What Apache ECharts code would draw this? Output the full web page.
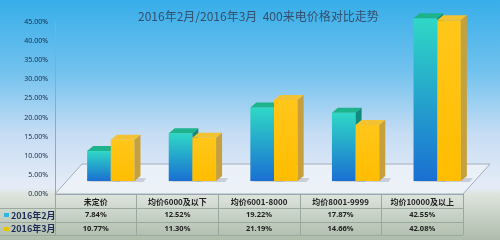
<!DOCTYPE html>
<html><head><meta charset="utf-8">
<script src="https://cdn.jsdelivr.net/npm/echarts@6/dist/echarts.min.js"></script>
<style>html,body{margin:0;padding:0;}#c{width:500px;height:240px;}</style>
</head><body><div id="c"></div>
<script>
const titleText = '2016年2月/2016年3月  400来电价格对比走势';
const categories = ['未定价', '均价6000及以下', '均价6001-8000', '均价8001-9999', '均价10000及以上'];
const seriesNames = ['2016年2月', '2016年3月'];
const febValues = [7.84, 12.52, 19.22, 17.87, 42.55];
const marValues = [10.77, 11.30, 21.19, 14.66, 42.08];
const yTicks = [0, 5, 10, 15, 20, 25, 30, 35, 40, 45];

const fmt = v => v.toFixed(2) + '%';
const chart = echarts.init(document.getElementById('c'), null, {renderer: 'canvas'});

const DX = 15, DY = -13, DEPTH_X = 6, DEPTH_Y = 5;
const styles = [
  {front: ['#2fd8c6', '#1a6fd2'], top: '#1db38c', side: '#138a7e'},
  {front: ['#ffc61a', '#ffbd00'], top: '#f3c232', side: '#c6a03c'}
];

function makeRender(si) {
  return function (params, api) {
    const idx = api.value(0);
    const val = api.value(1);
    const base = api.coord([idx, 0]);
    const top = api.coord([idx, val]);
    const band = api.size([1, 0])[0];
    const w = band * 0.29;
    const x0 = base[0] + DX + (si === 0 ? -w : 0);
    const yb = base[1] + DY;
    const yt = top[1] + DY;
    const st = styles[si];
    return {
      type: 'group',
      children: [
        {type: 'polygon', shape: {points: [[x0 - 1, yb + 1], [x0 + w + 9, yb + 1], [x0 + w + 12, yb - 3], [x0 + w, yb - 3]]},
          style: {fill: 'rgba(120,130,150,0.3)'}},
        {type: 'rect', shape: {x: x0, y: yt, width: w, height: yb - yt},
          style: {fill: new echarts.graphic.LinearGradient(0, 0, 0, 1, [{offset: 0, color: st.front[0]}, {offset: 1, color: st.front[1]}])}},
        {type: 'polygon', shape: {points: [[x0, yt], [x0 + DEPTH_X, yt - DEPTH_Y], [x0 + w + DEPTH_X, yt - DEPTH_Y], [x0 + w, yt]]},
          style: {fill: st.top}},
        {type: 'polygon', shape: {points: [[x0 + w, yt], [x0 + w + DEPTH_X, yt - DEPTH_Y], [x0 + w + DEPTH_X, yb - DEPTH_Y], [x0 + w, yb]]},
          style: {fill: st.side}}
      ]
    };
  };
}

const rowLabelFont = {fontFamily: 'Noto Sans CJK SC', fontSize: 9, fontWeight: 'bold', fill: '#1c2a55'};
const lineStyle = {stroke: '#9aa8a0', lineWidth: 1};

const option = {
  animation: false,
  backgroundColor: new echarts.graphic.LinearGradient(0, 0, 0, 1, [
    {offset: 0, color: '#37aee9'},
    {offset: 0.3, color: '#72c2ee'},
    {offset: 0.55, color: '#c4dcf4'},
    {offset: 0.78, color: '#e6ecf6'},
    {offset: 0.81, color: '#dde4dc'},
    {offset: 1, color: '#aebcac'}
  ]),
  title: {
    text: titleText, left: 133, top: 5,
    textStyle: {fontFamily: 'Noto Sans CJK SC', fontSize: 12, fontWeight: 'normal', color: '#34506e'}
  },
  grid: {left: 55, right: 37, top: 22, bottom: 46},
  xAxis: [
    {
      type: 'category', data: categories, position: 'bottom',
      axisLine: {show: true, lineStyle: {color: '#9aa6b4'}},
      axisTick: {show: true, length: 41, lineStyle: {color: '#9aa8a0'}},
      axisLabel: {interval: 0, margin: 4, fontFamily: 'Noto Sans CJK SC', fontSize: 8, fontWeight: 'bold', color: '#222'}
    },
    {
      type: 'category', data: febValues.map(fmt), position: 'bottom', offset: 14,
      axisLine: {show: false}, axisTick: {show: false},
      axisLabel: {interval: 0, margin: 3, fontFamily: 'Noto Sans', fontSize: 7.5, fontWeight: 'bold', color: '#222'}
    },
    {
      type: 'category', data: marValues.map(fmt), position: 'bottom', offset: 28,
      axisLine: {show: false}, axisTick: {show: false},
      axisLabel: {interval: 0, margin: 3, fontFamily: 'Noto Sans', fontSize: 7.5, fontWeight: 'bold', color: '#222'}
    }
  ],
  yAxis: {
    type: 'value', min: yTicks[0], max: yTicks[yTicks.length - 1], interval: yTicks[1] - yTicks[0],
    axisLine: {show: true, lineStyle: {color: '#9aa6b4'}},
    axisTick: {show: false}, splitLine: {show: false},
    axisLabel: {margin: 7, fontFamily: 'Noto Sans', fontSize: 7, color: '#1a2d4a', formatter: v => fmt(v)}
  },
  series: [
    {name: seriesNames[0], type: 'custom', xAxisIndex: 0, renderItem: makeRender(0), z: 3,
      data: febValues.map((v, i) => [i, v])},
    {name: seriesNames[1], type: 'custom', xAxisIndex: 0, renderItem: makeRender(1), z: 4,
      data: marValues.map((v, i) => [i, v])}
  ],
  graphic: [
    {type: 'polygon', z: -1, shape: {points: [[55, 194], [82, 164], [490, 164], [463, 194]]},
      style: {fill: 'rgba(240,243,250,0.7)', stroke: '#a4aec0', lineWidth: 1}},
    {type: 'line', z: 1, shape: {x1: 0, y1: 208.5, x2: 463, y2: 208.5}, style: lineStyle},
    {type: 'line', z: 1, shape: {x1: 0, y1: 222.5, x2: 463, y2: 222.5}, style: lineStyle},
    {type: 'line', z: 1, shape: {x1: 0, y1: 235.5, x2: 463, y2: 235.5}, style: lineStyle},
    {type: 'rect', z: 1, shape: {x: 4, y: 213, width: 5, height: 4}, style: {fill: '#2bb8e0'}},
    {type: 'text', z: 1, x: 11, y: 215.5, style: Object.assign({text: seriesNames[0], verticalAlign: 'middle'}, rowLabelFont)},
    {type: 'rect', z: 1, shape: {x: 4, y: 227, width: 5, height: 4}, style: {fill: '#e8c400'}},
    {type: 'text', z: 1, x: 11, y: 229, style: Object.assign({text: seriesNames[1], verticalAlign: 'middle'}, rowLabelFont)}
  ]
};
chart.setOption(option);
</script></body></html>
